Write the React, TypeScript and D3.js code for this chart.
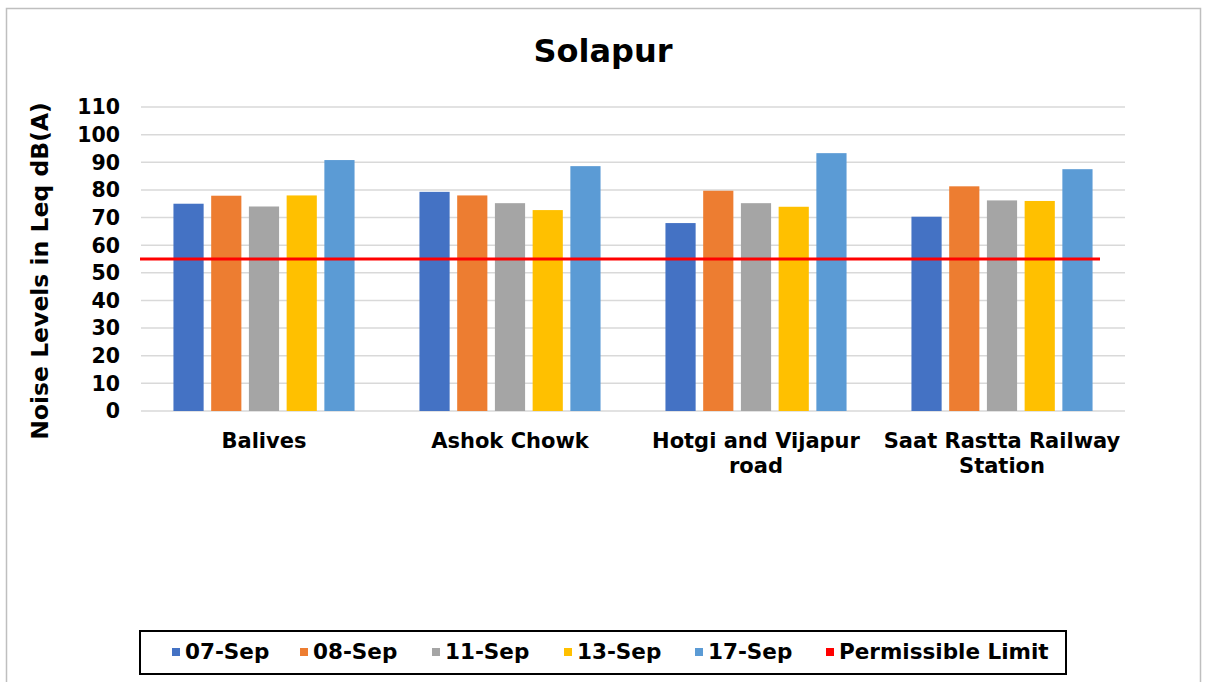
import React from "react";
import * as d3 from "d3";

// chart values
const categories = [["Balives"], ["Ashok Chowk"], ["Hotgi and Vijapur", "road"], ["Saat Rastta Railway", "Station"]];
const seriesNames = ["07-Sep", "08-Sep", "11-Sep", "13-Sep", "17-Sep"];
const sep07 = [75, 79.3, 68, 70.3];
const sep08 = [77.9, 78, 79.7, 81.3];
const sep11 = [74, 75.2, 75.2, 76.2];
const sep13 = [78, 72.7, 73.9, 76];
const sep17 = [90.8, 88.6, 93.3, 87.5];
const permissibleLimit = 55;
const yTicks = [0, 10, 20, 30, 40, 50, 60, 70, 80, 90, 100, 110];
const colors = ["#4472C4", "#ED7D31", "#A5A5A5", "#FFC000", "#5B9BD5"];
const limitColor = "#FF0000";

const W = 1206;
const H = 682;
const font = "'DejaVu Sans', Verdana, sans-serif";

const App = () => {
  const margin = { top: 107, left: 141, right: 81, bottom: 271 };
  const plotW = W - margin.left - margin.right;
  const plotH = H - margin.top - margin.bottom;

  const catKeys = categories.map((c) => c.join(" "));
  const values = [sep07, sep08, sep11, sep13, sep17];

  const x0 = d3.scaleBand().domain(catKeys).range([0, plotW]).padding(0);
  const x1 = d3
    .scaleBand()
    .domain(seriesNames)
    .range([0, x0.bandwidth()])
    .paddingInner(0.2)
    .paddingOuter(0.86);
  const y = d3.scaleLinear().domain([0, 110]).range([plotH, 0]);

  const legendItems = [...seriesNames, "Permissible Limit"];
  const legendColors = [...colors, limitColor];
  const legendX = [172, 300, 432, 564, 695, 826];

  return (
    <svg width={W} height={H} style={{ display: "block", position: "absolute", left: 0, top: 0, background: "#fff" }}>
      <rect x={6.5} y={8.5} width={1194} height={700} fill="#fff" stroke="#bfbfbf" strokeWidth={1.5} />

      {/* Title */}
      <text x={603} y={62} textAnchor="middle" fontFamily={font} fontWeight="bold" fontSize={32}>
        Solapur
      </text>

      {/* Y-axis title */}
      <text
        transform={`translate(48,${margin.top + plotH / 2 + 12}) rotate(-90)`}
        textAnchor="middle"
        fontFamily={font}
        fontWeight="bold"
        fontSize={23.5}
      >
        Noise Levels in Leq dB(A)
      </text>

      <g transform={`translate(${margin.left},${margin.top})`}>
        {/* gridlines + y tick labels */}
        {yTicks.map((t) => (
          <g key={t}>
            <line x1={0} x2={plotW} y1={y(t)} y2={y(t)} stroke="#d9d9d9" strokeWidth={1.5} />
            <text
              x={-21}
              y={y(t)}
              dy="0.36em"
              textAnchor="end"
              fontFamily={font}
              fontWeight="bold"
              fontSize={20.5}
            >
              {t}
            </text>
          </g>
        ))}

        {/* bars */}
        {catKeys.map((c, ci) => (
          <g key={c} transform={`translate(${x0(c)},0)`}>
            {seriesNames.map((s, si) => (
              <rect
                key={s}
                x={x1(s)}
                y={y(values[si][ci])}
                width={x1.bandwidth()}
                height={plotH - y(values[si][ci])}
                fill={colors[si]}
              />
            ))}
          </g>
        ))}

        {/* permissible limit */}
        <line
          x1={-1}
          x2={plotW - 25}
          y1={y(permissibleLimit)}
          y2={y(permissibleLimit)}
          stroke={limitColor}
          strokeWidth={3}
        />

        {/* category labels */}
        {categories.map((lines, ci) => (
          <text
            key={ci}
            x={(x0(catKeys[ci]) ?? 0) + x0.bandwidth() / 2}
            y={plotH + 37}
            textAnchor="middle"
            fontFamily={font}
            fontWeight="bold"
            fontSize={21}
          >
            {lines.map((l, li) => (
              <tspan key={li} x={(x0(catKeys[ci]) ?? 0) + x0.bandwidth() / 2} dy={li === 0 ? 0 : 25}>
                {l}
              </tspan>
            ))}
          </text>
        ))}
      </g>

      {/* legend */}
      <rect x={140} y={631} width={926} height={43} fill="#fff" stroke="#000" strokeWidth={2} />
      {legendItems.map((name, i) => (
        <g key={name}>
          <rect x={legendX[i]} y={648} width={8} height={8} fill={legendColors[i]} />
          <text x={legendX[i] + 13} y={659} fontFamily={font} fontWeight="bold" fontSize={21.5}>
            {name}
          </text>
        </g>
      ))}
    </svg>
  );
};

export default App;
